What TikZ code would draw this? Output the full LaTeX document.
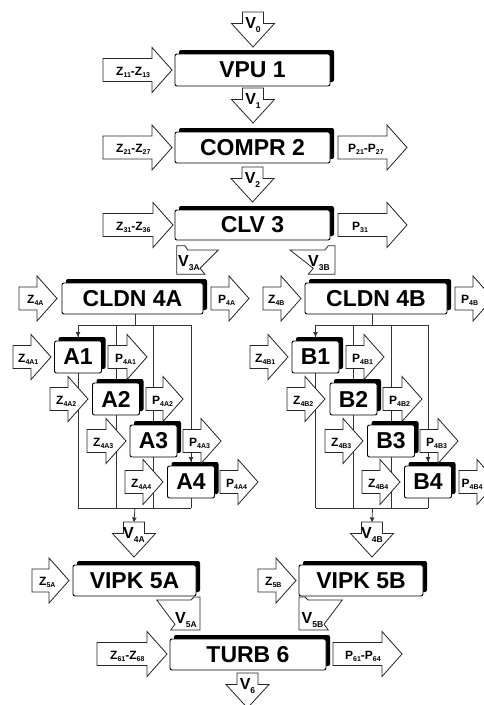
\documentclass[tikz,border=0pt]{standalone}
\usepackage{fontspec}
\setmainfont{Liberation Sans}
\usetikzlibrary{shadows,arrows.meta,calc}
\newcommand\lsub[1]{\raisebox{-2pt}{\fontsize{7}{7}\selectfont #1}}
\newcommand\vsub[1]{\raisebox{-4pt}{\fontsize{8.5}{8.5}\selectfont #1}}
% right-pointing block arrow: name, left x, centre y, length, label offset, label
\newcommand\rarr[6]{%
  \draw[blk] (#2,{#3-11.5}) -- ({#2+#4-20},{#3-11.5}) -- ({#2+#4-20},{#3-22.5}) -- ({#2+#4},#3) -- ({#2+#4-20},{#3+22.5}) -- ({#2+#4-20},{#3+11.5}) -- (#2,{#3+11.5}) -- cycle;
  \coordinate (#1c) at (#2,#3);
  \node[lbl,anchor=base west] (#1) at ({#2+#5},{#3+5}) {#6};}
% down-pointing block arrow: name, centre x, top y, label
\newcommand\darr[4]{%
  \draw[blk] ({#2-10.5},#3) -- ({#2+10.5},#3) -- ({#2+10.5},{#3+11.5}) -- ({#2+21.5},{#3+11.5}) -- (#2,{#3+35}) -- ({#2-21.5},{#3+11.5}) -- ({#2-10.5},{#3+11.5}) -- cycle;
  \coordinate (#1c) at (#2,#3);
  \node[vlbl,anchor=base] (#1) at (#2,{#3+16}) {#4};}
\begin{document}
\begin{tikzpicture}[x=1pt,y=-1pt,
  box/.style={draw=black, line width=0.9pt, fill=white, rounded corners=2pt, inner sep=0pt,
    font=\fontsize{23}{23}\selectfont\bfseries,
    drop shadow={shadow xshift=4pt,shadow yshift=4pt,fill=black,opacity=1}},
  bigbox/.style={box, minimum height=31},
  smallbox/.style={box, minimum width=47, minimum height=32},
  blk/.style={draw=black!85, line width=0.8pt, fill=white, line join=miter},
  lbl/.style={inner sep=0pt, font=\fontsize{12}{12}\selectfont\bfseries},
  vlbl/.style={inner sep=0pt, font=\fontsize{16}{16}\selectfont\bfseries},
  wire/.style={draw=black!80, line width=0.8pt},
  tip/.style={-{Triangle[length=4.5pt,width=4.5pt]}}]
\fill[white] (0,0) rectangle (484,705);
\useasboundingbox (0,0) rectangle (484,705);

% bus coordinates
\coordinate (busAt) at (135,325);   \coordinate (busAb) at (135,508);
\coordinate (colA1) at (78,325);    \coordinate (colA2) at (116,325);
\coordinate (colA3) at (153.5,325); \coordinate (colA4) at (191,325);
\coordinate (busBt) at (372.5,325); \coordinate (busBb) at (372.5,508);
\coordinate (colB1) at (315.5,325); \coordinate (colB2) at (353.5,325);
\coordinate (colB3) at (391,325);   \coordinate (colB4) at (428,325);

% wires behind the boxes
\draw[wire] (colA1) -- (colA4);
\draw[wire] (colA1 |- busAb) -- (colA4 |- busAb);
\foreach \c in {colA1,colA2,colA3,colA4} \draw[wire] (\c) -- (\c |- busAb);
\draw[wire] (colB1) -- (colB4);
\draw[wire] (colB1 |- busBb) -- (colB4 |- busBb);
\foreach \c in {colB1,colB2,colB3,colB4} \draw[wire] (\c) -- (\c |- busBb);

% main boxes
\node[bigbox, minimum width=155, minimum height=32] (vpu) at (252.5,70) {VPU 1};
\node[bigbox, minimum width=155] (compr) at (252.5,147.5) {COMPR 2};
\node[bigbox, minimum width=155, minimum height=30] (clv) at (252.5,225) {CLV 3};
\node[bigbox, minimum width=141] (cldnA) at (132.5,298.5) {CLDN 4A};
\node[bigbox, minimum width=142] (cldnB) at (376,298.5) {CLDN 4B};
\node[bigbox, minimum width=123] (vipkA) at (134.5,580.5) {VIPK 5A};
\node[bigbox, minimum width=124] (vipkB) at (361,580.5) {VIPK 5B};
\node[bigbox, minimum width=156] (turb) at (248,654.5) {TURB 6};

\node[smallbox] (A1) at (78,357) {A1};
\node[smallbox] (A2) at (116,399) {A2};
\node[smallbox] (A3) at (153.5,441) {A3};
\node[smallbox] (A4) at (191,482) {A4};
\node[smallbox] (B1) at (315.5,357) {B1};
\node[smallbox] (B2) at (353.5,399) {B2};
\node[smallbox] (B3) at (391,441) {B3};
\node[smallbox] (B4) at (428,482) {B4};

% input / output arrows
\rarr{z1}{103}{70}{69}{13}{Z\lsub{11}-Z\lsub{13}}
\rarr{z2}{103}{147.5}{69}{13}{Z\lsub{21}-Z\lsub{27}}
\rarr{p2}{338}{147.5}{69}{10}{P\lsub{21}-P\lsub{27}}
\rarr{z3}{103}{225}{70}{13}{Z\lsub{31}-Z\lsub{36}}
\rarr{p3}{338}{225}{69}{14}{P\lsub{31}}
\rarr{z4a}{19}{298.5}{38}{8}{Z\lsub{4A}}
\rarr{p4a}{211}{298.5}{38}{7}{P\lsub{4A}}
\rarr{z4b}{263}{298.5}{38}{5}{Z\lsub{4B}}
\rarr{p4b}{455}{298.5}{38}{6}{P\lsub{4B}}
\rarr{z4a1}{13}{357}{38}{5}{Z\lsub{4A1}}
\rarr{p4a1}{108}{357}{39}{7}{P\lsub{4A1}}
\rarr{z4a2}{50}{399}{38}{6}{Z\lsub{4A2}}
\rarr{p4a2}{146}{399}{37}{6}{P\lsub{4A2}}
\rarr{z4a3}{87}{441}{39}{6}{Z\lsub{4A3}}
\rarr{p4a3}{183}{441}{38}{6}{P\lsub{4A3}}
\rarr{z4a4}{125}{482}{38}{6}{Z\lsub{4A4}}
\rarr{p4a4}{220}{482}{38}{6}{P\lsub{4A4}}
\rarr{z4b1}{250}{357}{38}{5}{Z\lsub{4B1}}
\rarr{p4b1}{346}{357}{38}{6}{P\lsub{4B1}}
\rarr{z4b2}{287}{399}{38}{6}{Z\lsub{4B2}}
\rarr{p4b2}{383}{399}{39}{6}{P\lsub{4B2}}
\rarr{z4b3}{325}{441}{38}{6}{Z\lsub{4B3}}
\rarr{p4b3}{420}{441}{38}{6}{P\lsub{4B3}}
\rarr{z4b4}{362}{482}{38}{6}{Z\lsub{4B4}}
\rarr{p4b4}{459}{482}{38}{2.5}{P\lsub{4B4}}
\rarr{z5a}{32}{580.5}{37}{7}{Z\lsub{5A}}
\rarr{z5b}{258}{580.5}{38}{7}{Z\lsub{5B}}
\rarr{z6}{97}{654}{70}{13}{Z\lsub{61}-Z\lsub{68}}
\rarr{p6}{333}{654}{69}{12}{P\lsub{61}-P\lsub{64}}

% flow arrows
\darr{v0}{253}{12}{V\vsub{0}}
\darr{v1}{253}{88}{V\vsub{1}}
\darr{v2}{252.5}{167}{V\vsub{2}}
\darr{v4a}{134}{522}{V\vsub{4A}}
\darr{v4b}{372}{522}{V\vsub{4B}}
\darr{v6}{247.5}{673}{V\vsub{6}}

% split / merge arrows
\draw[blk] (176.7,245.7) -- (185,245.7) -- (187.7,250) -- (218.3,250) -- (200,268.3) -- (205,274.3) -- (176.7,274.3) -- cycle;
\node[vlbl, anchor=base west] (v3a) at (178,266.5) {V\vsub{3A}};
\draw[blk] (290,250) -- (325,250) -- (328.3,245.7) -- (335,245.7) -- (335,274.3) -- (308.3,274.3) -- (313.3,268.3) -- cycle;
\node[vlbl, anchor=base west] (v3b) at (308,266.5) {V\vsub{3B}};
\draw[blk] (156.7,600) -- (191,600) -- (194,597) -- (200,597) -- (200,630) -- (170.7,630) -- (175,624.3) -- cycle;
\node[vlbl, anchor=base west] (v5a) at (175,623) {V\vsub{5A}};
\draw[blk] (342.3,600) -- (308,600) -- (305,597) -- (299,597) -- (299,630) -- (328.3,630) -- (324,624.3) -- cycle;
\node[vlbl, anchor=base west] (v5b) at (301.5,623) {V\vsub{5B}};

% stems and arrow tips on top
\draw[wire] (busAt |- cldnA.south) -- (busAt);
\draw[wire] (busBt |- cldnB.south) -- (busBt);
\draw[wire,tip] (colA1) -- ([yshift=4pt]A1.north);
\draw[wire,tip] ($(colA4 |- p4a3c)+(0,12)$) -- ([yshift=4pt]A4.north);
\draw[wire,tip] (colB1) -- ([yshift=4pt]B1.north);
\draw[wire,tip] ($(colB4 |- p4b3c)+(0,12)$) -- ([yshift=4pt]B4.north);
\draw[wire,tip] (busAb) -- (v4ac);
\draw[wire,tip] (busBb) -- (v4bc);
\end{tikzpicture}
\end{document}
